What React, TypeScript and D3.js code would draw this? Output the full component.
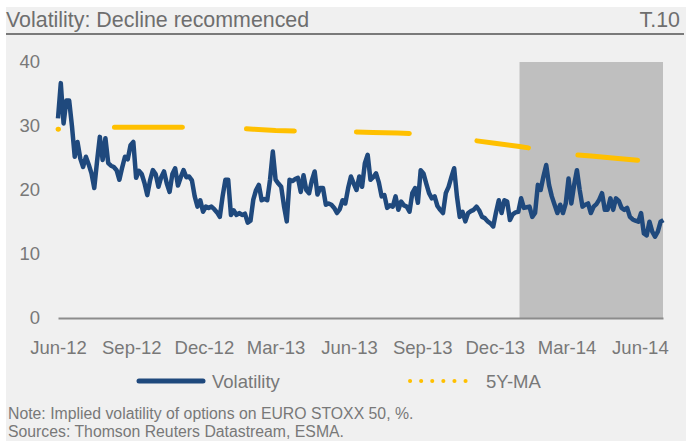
import React, { useEffect, useRef } from 'react';
import { select, scaleTime, scaleLinear, line, axisBottom, axisLeft, timeFormat, timeHour } from 'd3';

// twice-weekly readings (every 84 hours), first one on volStart
const volStart = '2012-06-01';
const volStepHours = 84;
const volValues = [
  31.2, 36.7, 30.4, 34.0, 34.0, 30.0, 25.2, 27.5, 24.9, 23.6,
  25.2, 24.0, 22.6, 20.3, 24.5, 28.3, 24.7, 28.1, 24.2, 23.8,
  23.6, 23.1, 21.6, 23.5, 25.2, 24.8, 27.0, 27.5, 21.9, 23.0,
  22.5, 21.1, 19.2, 21.5, 23.1, 22.5, 20.5, 22.0, 22.9, 21.0,
  19.7, 22.5, 23.4, 20.7, 22.0, 23.1, 22.0, 22.1, 21.5, 19.0,
  17.4, 18.4, 16.6, 17.4, 17.2, 17.4, 17.0, 16.5, 15.8, 19.0,
  21.6, 21.6, 16.1, 16.8, 16.1, 16.4, 16.1, 16.3, 14.9, 15.2,
  18.5, 20.0, 20.8, 18.4, 18.6, 18.4, 21.6, 26.0, 21.6, 21.0,
  20.5, 17.5, 15.1, 21.6, 21.4, 21.7, 21.9, 19.7, 22.3, 20.0,
  19.5, 21.5, 22.9, 19.3, 20.3, 20.3, 17.7, 17.9, 17.7, 17.2,
  16.4, 17.0, 18.4, 17.9, 20.3, 22.1, 21.0, 20.0, 22.1, 20.5,
  24.2, 25.5, 21.6, 22.0, 22.6, 21.2, 19.0, 19.2, 17.2, 17.6,
  17.4, 19.0, 16.9, 18.2, 17.6, 17.4, 16.6, 19.5, 20.3, 18.0,
  23.1, 22.6, 21.0, 19.5, 18.7, 19.0, 17.5, 16.9, 16.4, 19.5,
  20.5, 22.0, 23.4, 19.0, 15.8, 16.6, 15.1, 16.4, 16.7, 16.9,
  17.4, 16.8, 15.8, 15.6, 15.1, 14.8, 14.3, 16.5, 18.4, 16.4,
  18.4, 18.2, 15.3, 16.2, 16.5, 16.6, 18.7, 17.2, 17.3, 17.4,
  15.8, 16.4, 20.8, 20.0, 22.1, 23.9, 20.8, 19.0, 17.7, 16.4,
  17.7, 16.4, 17.9, 21.8, 17.9, 20.8, 23.1, 20.0, 17.4, 17.7,
  17.9, 16.4, 17.4, 17.8, 18.5, 19.5, 16.9, 16.9, 18.7, 16.9,
  18.7, 18.3, 17.2, 16.9, 17.2, 15.8, 15.4, 15.2, 15.05, 16.4,
  13.2, 12.9, 15.05, 13.5, 12.7, 13.5, 15.05, 15.3,
];

const maDates = [
  '2012-06-01', '2012-07-01', '2012-08-01', '2012-09-01', '2012-10-01', '2012-11-01',
  '2012-12-01', '2013-01-01', '2013-02-01', '2013-03-01', '2013-04-01', '2013-05-01',
  '2013-06-01', '2013-07-01', '2013-08-01', '2013-09-01', '2013-10-01', '2013-11-01',
  '2013-12-01', '2014-01-01', '2014-02-01', '2014-03-01', '2014-04-01', '2014-05-01',
  '2014-06-01',
];
const maValues = [
  29.5, 29.7, 29.8, 29.8, 29.8, 29.8,
  29.75, 29.7, 29.5, 29.3, 29.2, 29.15,
  29.1, 29.0, 28.9, 28.75, 28.3, 27.8,
  27.3, 26.8, 26.2, 25.6, 25.3, 24.95,
  24.6,
];

const xTickDates = [
  '2012-06-01', '2012-09-01', '2012-12-01', '2013-03-01', '2013-06-01',
  '2013-09-01', '2013-12-01', '2014-03-01', '2014-06-01',
];
const yTicks = [0, 10, 20, 30, 40];
const xDomain = ['2012-06-01', '2014-06-30'];
const shadeStart = '2014-01-01';

const title = 'Volatility: Decline recommenced';
const tag = 'T.10';
const legendNames = ['Volatility', '5Y-MA'];
const notes = [
  'Note: Implied volatility of options on EURO STOXX 50, %.',
  'Sources: Thomson Reuters Datastream, ESMA.',
];

const FONT = "'Liberation Sans', Arial, sans-serif";
const TEXT = '#787878';
const BLUE = '#1f497d';
const GOLD = '#ffc000';

const parse = (s: string) => new Date(s + 'T00:00:00');

const App = () => {
  const svgRef = useRef<SVGSVGElement>(null);
  const width = 686, height = 441;
  const margin = { top: 62, right: 23, bottom: 123, left: 58 };

  useEffect(() => {
    const svg = select(svgRef.current);
    svg.selectAll('*').remove();

    const x = scaleTime()
      .domain(xDomain.map(parse))
      .range([margin.left, width - margin.right]);
    const y = scaleLinear()
      .domain([0, 40])
      .range([height - margin.bottom, margin.top]);

    const start = parse(volStart);
    const vol = volValues.map((v, i) => ({ date: timeHour.offset(start, i * volStepHours), value: v }));
    const ma = maDates.map((d, i) => ({ date: parse(d), value: maValues[i] }));

    // panel
    svg.append('rect')
      .attr('x', 6).attr('y', 7)
      .attr('width', width - 6).attr('height', height - 7)
      .attr('fill', '#f0f0f0');

    svg.append('text')
      .attr('x', 6).attr('y', 27)
      .attr('font-size', 21.4)
      .attr('fill', '#6e6e6e')
      .text(title);
    svg.append('text')
      .attr('x', 680).attr('y', 27)
      .attr('text-anchor', 'end')
      .attr('font-size', 21.4)
      .attr('fill', '#6e6e6e')
      .text(tag);
    svg.append('line')
      .attr('x1', 6).attr('x2', 684)
      .attr('y1', 34).attr('y2', 34)
      .attr('stroke', '#7a7a7a')
      .attr('stroke-width', 2);

    // 2014 shading
    svg.append('rect')
      .attr('x', x(parse(shadeStart)))
      .attr('y', y(40))
      .attr('width', x(parse(xDomain[1])) - x(parse(shadeStart)))
      .attr('height', y(0) - y(40))
      .attr('fill', '#bfbfbf');

    // axes
    const yAxis = axisLeft(y).tickValues(yTicks).tickSize(0).tickPadding(18);
    const gy = svg.append('g')
      .attr('transform', `translate(${margin.left},0)`)
      .call(yAxis);
    gy.select('.domain').remove();
    gy.selectAll('text')
      .attr('font-family', FONT)
      .attr('font-size', 18.5)
      .attr('fill', TEXT);

    const xAxis = axisBottom(x)
      .tickValues(xTickDates.map(parse))
      .tickFormat((d) => timeFormat('%b-%y')(d as Date))
      .tickSize(0)
      .tickSizeOuter(0)
      .tickPadding(23);
    const gx = svg.append('g')
      .attr('transform', `translate(0,${y(0)})`)
      .call(xAxis);
    gx.select('.domain')
      .attr('stroke', '#8c8c8c')
      .attr('stroke-width', 2);
    gx.selectAll('text')
      .attr('font-family', FONT)
      .attr('font-size', 18.5)
      .attr('fill', TEXT);

    const drawLine = line<{ date: Date; value: number }>()
      .x(d => x(d.date))
      .y(d => y(d.value));

    svg.append('path')
      .datum(vol)
      .attr('d', drawLine)
      .attr('fill', 'none')
      .attr('stroke', BLUE)
      .attr('stroke-width', 4.5)
      .attr('stroke-linejoin', 'round');

    svg.append('path')
      .datum(ma)
      .attr('d', drawLine)
      .attr('fill', 'none')
      .attr('stroke', GOLD)
      .attr('stroke-width', 5)
      .attr('stroke-linecap', 'round')
      .attr('stroke-dasharray', '0.5 56 68 64 48 62 53 68 52 50 60 300');

    // legend
    const lg = svg.append('g');
    lg.append('line')
      .attr('x1', 139).attr('x2', 203)
      .attr('y1', 381).attr('y2', 381)
      .attr('stroke', BLUE)
      .attr('stroke-width', 5)
      .attr('stroke-linecap', 'round');
    lg.append('text')
      .attr('x', 212).attr('y', 388)
      .attr('font-size', 18.5)
      .attr('fill', TEXT)
      .text(legendNames[0]);
    lg.append('line')
      .attr('x1', 410).attr('x2', 476)
      .attr('y1', 381).attr('y2', 381)
      .attr('stroke', GOLD)
      .attr('stroke-width', 4)
      .attr('stroke-linecap', 'round')
      .attr('stroke-dasharray', '0.1 11');
    lg.append('text')
      .attr('x', 486).attr('y', 388)
      .attr('font-size', 18.5)
      .attr('fill', TEXT)
      .text(legendNames[1]);

    svg.append('g')
      .selectAll('text')
      .data(notes)
      .enter()
      .append('text')
      .attr('x', 8)
      .attr('y', (d, i) => 419 + i * 18)
      .attr('font-size', 15.8)
      .attr('fill', TEXT)
      .text(d => d);
  }, []);

  return (
    <svg
      ref={svgRef}
      width={width}
      height={height}
      fontFamily={FONT}
      style={{ position: 'absolute', left: 0, top: 0, background: '#fff' }}
    />
  );
};

export default App;
